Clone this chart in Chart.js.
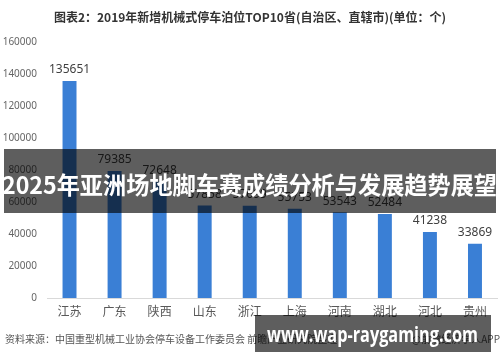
<!DOCTYPE html>
<html><head><meta charset="utf-8">
<script src="https://cdn.jsdelivr.net/npm/chart.js@4"></script>
<style>
html,body{margin:0;padding:0;background:#fff;}
#wrap{position:relative;width:500px;height:362px;overflow:hidden;font-family:"Noto Sans CJK SC","Noto Sans",sans-serif;}
canvas{position:absolute;left:0;top:0;}
.t{position:absolute;white-space:nowrap;}
#title{left:0;width:500px;top:8px;text-align:center;font-size:12px;font-weight:bold;color:#333;}
#src{left:5px;top:331px;font-size:10px;color:#555;}
#src2{right:0;top:331px;font-size:10px;color:#555;}
.band{position:absolute;background:rgba(0,0,0,0.63);}
.bt{position:absolute;color:#fff;font-weight:bold;white-space:nowrap;transform-origin:left center;}
</style></head>
<body><div id="wrap">
<canvas id="c" width="500" height="362"></canvas>
<div class="t" id="title">图表2：2019年新增机械式停车泊位TOP10省(自治区、直辖市)(单位：个)</div>
<div class="t" id="src">资料来源：中国重型机械工业协会停车设备工作委员会 前瞻产业研究院整理</div>
<div class="t" id="src2">@前瞻经济学人APP</div>
<div class="band" style="left:4px;top:149px;width:492px;height:64px;"></div>
<div class="bt" id="o1" style="left:2px;top:168px;font-size:24px;line-height:32px;font-family:'Noto Sans CJK SC',sans-serif;">2025年亚洲场地脚车赛成绩分析与发展趋势展望</div>
<div class="band" style="left:255px;top:315px;width:236px;height:37px;"></div>
<div class="bt" id="o2" style="left:267px;top:318px;font-size:22px;line-height:30px;font-family:'Open Sans','DejaVu Sans',sans-serif;">www.wap-raygaming.com</div>
</div>
<script>
const categories = ['江苏','广东','陕西','山东','浙江','上海','河南','湖北','河北','贵州'];
const values = [135651,79385,72648,57858,57699,55753,53543,52484,41238,33869];
const yTicks = [0,20000,40000,60000,80000,100000,120000,140000,160000];

function fit(id, w){
  const el=document.getElementById(id);
  const r=el.getBoundingClientRect().width;
  el.style.transform='scaleX('+(w/r)+')';
}
fit('o1',495);
fit('o2',211);

const labelPlugin={
  id:'vals',
  afterDatasetsDraw(chart){
    const ctx=chart.ctx;
    const meta=chart.getDatasetMeta(0);
    ctx.save();
    ctx.font='12px "Noto Sans","Open Sans",sans-serif';
    ctx.fillStyle='#404040';
    ctx.textAlign='center';
    ctx.textBaseline='middle';
    meta.data.forEach((b,i)=>{ctx.fillText(String(values[i]),b.x,b.y-11);});
    ctx.restore();
  }
};

new Chart(document.getElementById('c'),{
  type:'bar',
  data:{labels:categories,datasets:[{data:values,backgroundColor:'#3a7fd5',barPercentage:0.62,categoryPercentage:0.5}]},
  options:{
    responsive:false,animation:false,
    layout:{padding:{top:42,bottom:40,left:0,right:2.5}},
    plugins:{legend:{display:false},tooltip:{enabled:false}},
    scales:{
      x:{
        grid:{display:false,drawTicks:false},
        border:{display:true,color:'#d9d9d9',width:1},
        ticks:{color:'#595959',font:{size:12,family:'"Noto Sans CJK SC",sans-serif'},padding:6},
        afterFit(s){s.height=24;}
      },
      y:{
        min:0,max:160000,
        afterBuildTicks(s){s.ticks=yTicks.map(v=>({value:v}));},
        grid:{display:false,drawTicks:false},
        border:{display:false},
        ticks:{color:'#666',font:{size:10,family:'"Noto Sans","Open Sans",sans-serif'},padding:10,callback:v=>String(v)},
        afterFit(s){s.width=47;}
      }
    }
  },
  plugins:[labelPlugin]
});
</script>
</body></html>
